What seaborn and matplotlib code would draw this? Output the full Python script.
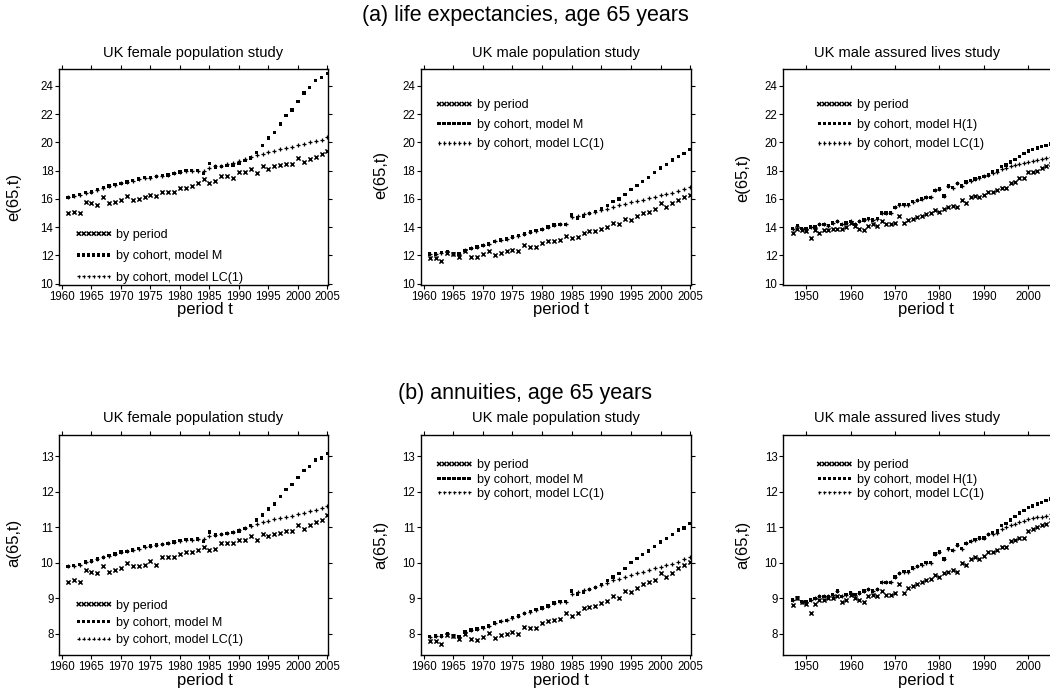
import numpy as np
import pandas as pd
import matplotlib
matplotlib.use('Agg')
from matplotlib import pyplot as plt
import seaborn as sns

# ---- data ----
years_pop = list(range(1961, 2006))
years_ass = list(range(1947, 2006))

# (a) life expectancy, UK female population
fem_e_period = [15.0, 15.1, 15.0, 15.8, 15.7, 15.6, 16.1, 15.7, 15.8, 15.9, 16.2, 15.9, 16.0, 16.1, 16.3,
                16.2, 16.5, 16.5, 16.5, 16.8, 16.8, 16.9, 17.1, 17.4, 17.1, 17.3, 17.6, 17.6, 17.5, 17.9,
                17.9, 18.1, 17.8, 18.3, 18.1, 18.3, 18.4, 18.5, 18.5, 18.9, 18.6, 18.8, 19.0, 19.2, 19.4]
fem_e_cohort = [16.1, 16.2, 16.3, 16.45, 16.5, 16.65, 16.8, 16.9, 17.0, 17.1, 17.2, 17.3, 17.4, 17.5, 17.5,
                17.6, 17.65, 17.7, 17.8, 17.9, 18.0, 18.0, 18.0, 17.8, 18.5, 18.25, 18.3, 18.35, 18.4, 18.5,
                18.7, 18.9, 19.3, 19.8, 20.3, 20.7, 21.3, 21.9, 22.3, 22.9, 23.5, 23.9, 24.4, 24.6, 24.9]
fem_e_lc = [16.1, 16.2, 16.3, 16.45, 16.5, 16.65, 16.8, 16.9, 17.0, 17.1, 17.2, 17.3, 17.4, 17.5, 17.5,
            17.6, 17.65, 17.7, 17.8, 17.9, 18.0, 18.0, 18.0, 18.0, 18.2, 18.3, 18.35, 18.45, 18.55, 18.65,
            18.8, 18.95, 19.1, 19.2, 19.3, 19.4, 19.5, 19.6, 19.7, 19.8, 19.9, 20.0, 20.1, 20.2, 20.35]

# (a) life expectancy, UK male population
mal_e_period = [11.8, 11.8, 11.6, 12.2, 12.1, 11.9, 12.3, 11.9, 11.9, 12.1, 12.3, 12.0, 12.2, 12.3, 12.4,
                12.3, 12.7, 12.6, 12.6, 12.9, 13.0, 13.0, 13.1, 13.4, 13.2, 13.3, 13.6, 13.7, 13.7, 13.9,
                14.0, 14.3, 14.2, 14.6, 14.5, 14.8, 15.0, 15.1, 15.3, 15.7, 15.4, 15.7, 15.9, 16.1, 16.3]
mal_e_cohort = [12.1, 12.1, 12.2, 12.25, 12.1, 12.1, 12.35, 12.5, 12.6, 12.7, 12.8, 13.0, 13.1, 13.15, 13.3,
                13.4, 13.5, 13.65, 13.75, 13.85, 14.0, 14.15, 14.2, 14.2, 14.85, 14.65, 14.8, 14.95, 15.1, 15.3,
                15.55, 15.8, 16.0, 16.3, 16.65, 16.95, 17.25, 17.5, 17.85, 18.2, 18.45, 18.75, 19.0, 19.2, 19.5]
mal_e_lc = [12.1, 12.1, 12.2, 12.25, 12.1, 12.1, 12.35, 12.5, 12.6, 12.7, 12.8, 13.0, 13.1, 13.15, 13.3,
            13.4, 13.5, 13.65, 13.75, 13.85, 14.0, 14.15, 14.2, 14.2, 14.7, 14.8, 14.9, 15.0, 15.1, 15.2,
            15.3, 15.45, 15.55, 15.65, 15.75, 15.85, 15.95, 16.05, 16.15, 16.25, 16.35, 16.45, 16.55, 16.7, 16.85]

# (a) life expectancy, UK male assured lives
ass_e_period = [13.6, 13.9, 13.8, 13.7, 13.2, 13.8, 13.6, 13.8, 13.8, 13.9, 13.9, 13.9, 14.0, 14.3, 14.1,
                13.9, 13.8, 14.1, 14.2, 14.1, 14.4, 14.2, 14.2, 14.3, 14.8, 14.3, 14.5, 14.6, 14.7, 14.8,
                14.9, 15.0, 15.2, 15.1, 15.3, 15.4, 15.5, 15.4, 15.9, 15.7, 16.1, 16.2, 16.1, 16.3, 16.5,
                16.5, 16.6, 16.8, 16.8, 17.1, 17.2, 17.5, 17.5, 17.9, 17.9, 18.0, 18.2, 18.3, 18.5]
ass_e_cohort = [13.9, 14.1, 13.9, 13.9, 14.0, 14.0, 14.2, 14.2, 14.1, 14.3, 14.4, 14.2, 14.3, 14.4, 14.2,
                14.4, 14.5, 14.6, 14.5, 14.6, 15.0, 15.0, 15.0, 15.4, 15.6, 15.6, 15.6, 15.8, 15.9, 16.0,
                16.1, 16.1, 16.6, 16.7, 16.2, 16.9, 16.8, 17.1, 16.9, 17.2, 17.3, 17.4, 17.5, 17.6, 17.7,
                17.9, 18.0, 18.3, 18.4, 18.6, 18.8, 19.0, 19.2, 19.4, 19.5, 19.6, 19.7, 19.8, 19.9]
ass_e_lc = [13.9, 14.1, 13.9, 13.9, 14.0, 14.0, 14.2, 14.2, 14.1, 14.3, 14.4, 14.2, 14.3, 14.4, 14.2,
            14.4, 14.5, 14.6, 14.5, 14.6, 15.0, 15.0, 15.0, 15.4, 15.6, 15.6, 15.6, 15.8, 15.9, 16.0,
            16.1, 16.1, 16.6, 16.7, 16.2, 16.9, 16.8, 17.1, 16.9, 17.2, 17.3, 17.4, 17.5, 17.6, 17.7,
            17.8, 17.9, 18.1, 18.2, 18.3, 18.4, 18.5, 18.55, 18.6, 18.7, 18.75, 18.8, 18.9, 19.0]

# (b) annuities, UK female population
fem_a_period = [9.45, 9.5, 9.45, 9.8, 9.75, 9.7, 9.9, 9.75, 9.8, 9.85, 10.0, 9.9, 9.9, 9.95, 10.05,
                9.95, 10.15, 10.15, 10.15, 10.25, 10.3, 10.3, 10.35, 10.45, 10.35, 10.4, 10.55, 10.55, 10.55, 10.65,
                10.65, 10.75, 10.65, 10.8, 10.75, 10.8, 10.85, 10.9, 10.9, 11.05, 10.95, 11.05, 11.15, 11.2, 11.35]
fem_a_cohort = [9.9, 9.92, 9.95, 10.02, 10.05, 10.1, 10.15, 10.2, 10.25, 10.3, 10.32, 10.36, 10.4, 10.45, 10.47,
                10.5, 10.52, 10.55, 10.58, 10.62, 10.65, 10.65, 10.67, 10.6, 10.87, 10.78, 10.8, 10.82, 10.85, 10.9,
                10.97, 11.05, 11.2, 11.35, 11.52, 11.65, 11.87, 12.07, 12.2, 12.4, 12.6, 12.72, 12.9, 12.95, 13.08]
fem_a_lc = [9.9, 9.92, 9.95, 10.02, 10.05, 10.1, 10.15, 10.2, 10.25, 10.3, 10.32, 10.36, 10.4, 10.45, 10.47,
            10.5, 10.52, 10.55, 10.58, 10.62, 10.65, 10.65, 10.67, 10.67, 10.75, 10.78, 10.8, 10.85, 10.88, 10.93,
            10.98, 11.03, 11.1, 11.15, 11.18, 11.22, 11.26, 11.3, 11.33, 11.37, 11.41, 11.45, 11.5, 11.54, 11.6]

# (b) annuities, UK male population
mal_a_period = [7.8, 7.8, 7.72, 7.97, 7.93, 7.85, 8.0, 7.85, 7.83, 7.92, 8.02, 7.88, 7.95, 8.0, 8.05,
                8.0, 8.2, 8.17, 8.17, 8.3, 8.37, 8.38, 8.42, 8.58, 8.5, 8.57, 8.72, 8.75, 8.78, 8.86,
                8.92, 9.05, 9.0, 9.2, 9.18, 9.3, 9.4, 9.45, 9.52, 9.7, 9.6, 9.7, 9.85, 9.93, 10.03]
mal_a_cohort = [7.92, 7.93, 7.94, 8.0, 7.93, 7.92, 8.05, 8.1, 8.13, 8.17, 8.22, 8.3, 8.35, 8.38, 8.45,
                8.5, 8.57, 8.62, 8.68, 8.72, 8.78, 8.87, 8.9, 8.9, 9.2, 9.12, 9.18, 9.24, 9.3, 9.38,
                9.5, 9.6, 9.7, 9.84, 10.0, 10.12, 10.23, 10.33, 10.45, 10.58, 10.68, 10.8, 10.92, 10.98, 11.1]
mal_a_lc = [7.92, 7.93, 7.94, 8.0, 7.93, 7.92, 8.05, 8.1, 8.13, 8.17, 8.22, 8.3, 8.35, 8.38, 8.45,
            8.5, 8.57, 8.62, 8.68, 8.72, 8.78, 8.87, 8.9, 8.9, 9.12, 9.17, 9.22, 9.27, 9.32, 9.38,
            9.43, 9.5, 9.55, 9.6, 9.65, 9.7, 9.75, 9.8, 9.84, 9.88, 9.93, 9.97, 10.02, 10.1, 10.17]

# (b) annuities, UK male assured lives
ass_a_period = [8.8, 9.0, 8.9, 8.85, 8.58, 8.85, 8.95, 8.95, 9.0, 9.0, 9.05, 8.9, 8.95, 9.1, 9.0,
                8.95, 8.9, 9.05, 9.1, 9.05, 9.2, 9.1, 9.1, 9.15, 9.4, 9.15, 9.3, 9.35, 9.4, 9.45,
                9.5, 9.55, 9.65, 9.6, 9.7, 9.75, 9.8, 9.75, 10.0, 9.95, 10.1, 10.15, 10.1, 10.2, 10.3,
                10.3, 10.35, 10.45, 10.45, 10.6, 10.65, 10.7, 10.7, 10.9, 10.95, 11.0, 11.05, 11.1, 11.2]
ass_a_cohort = [8.95, 9.02, 8.9, 8.9, 8.95, 9.0, 9.05, 9.05, 9.05, 9.1, 9.2, 9.05, 9.1, 9.15, 9.1,
                9.15, 9.2, 9.25, 9.2, 9.25, 9.45, 9.45, 9.45, 9.6, 9.7, 9.75, 9.75, 9.85, 9.9, 9.95,
                10.0, 10.0, 10.25, 10.3, 10.1, 10.4, 10.35, 10.5, 10.4, 10.55, 10.6, 10.65, 10.7, 10.7, 10.8,
                10.85, 10.9, 11.05, 11.1, 11.2, 11.3, 11.4, 11.48, 11.55, 11.6, 11.65, 11.7, 11.75, 11.8]
ass_a_lc = [8.95, 9.02, 8.9, 8.9, 8.95, 9.0, 9.05, 9.05, 9.05, 9.1, 9.2, 9.05, 9.1, 9.15, 9.1,
            9.15, 9.2, 9.25, 9.2, 9.25, 9.45, 9.45, 9.45, 9.6, 9.7, 9.75, 9.75, 9.85, 9.9, 9.95,
            10.0, 10.0, 10.25, 10.3, 10.1, 10.4, 10.35, 10.5, 10.4, 10.55, 10.6, 10.65, 10.7, 10.7, 10.8,
            10.8, 10.85, 10.95, 11.0, 11.05, 11.1, 11.15, 11.18, 11.22, 11.25, 11.28, 11.3, 11.33, 11.37]

labels_M = ['by period', 'by cohort, model M', 'by cohort, model LC(1)']
labels_H = ['by period', 'by cohort, model H(1)', 'by cohort, model LC(1)']
panel_titles = ['UK female population study', 'UK male population study', 'UK male assured lives study']

sns.set_style('ticks')
plt.rcParams['font.family'] = ['Liberation Sans', 'DejaVu Sans']
plt.rcParams['axes.edgecolor'] = 'black'
plt.rcParams['axes.linewidth'] = 1.0
plt.rcParams['text.color'] = 'black'
plt.rcParams['axes.labelcolor'] = 'black'

fig = plt.figure(figsize=(10.5, 6.89), dpi=100)

W, H = 1050.0, 689.0
def add_axes(left, right, top, bottom):
    return fig.add_axes([left / W, 1 - bottom / H, (right - left) / W, (bottom - top) / H])

markers = ['x', 's', '+']
sizes = [9, 6, 5]
lws = [1.1, 0, 0.9]
ink = '#000000'

def draw(ax, years, series, labels):
    for vals, lab, m, s, lw in zip(series, labels, markers, sizes, lws):
        d = pd.DataFrame({'year': years, 'value': vals})
        sns.scatterplot(data=d, x='year', y='value', ax=ax, marker=m, s=s,
                        color=ink, linewidth=lw, edgecolor=ink if m != 's' else 'none',
                        label=lab, legend=False, zorder=3)

rows = [
    dict(ylabel='e(65,t)', ylim=(9.9, 25.2), yticks=range(10, 25, 2), top=69, bottom=285,
         data=[(fem_e_period, fem_e_cohort, fem_e_lc), (mal_e_period, mal_e_cohort, mal_e_lc),
               (ass_e_period, ass_e_cohort, ass_e_lc)],
         leg=[('lower left', (0.055, 0.0), 0.75), ('upper left', (0.05, 0.865), 0.6), ('upper left', (0.115, 0.865), 0.6)],
         ylab_y=[0.41, 0.51, 0.495], xlab_y=-0.078),
    dict(ylabel='a(65,t)', ylim=(7.4, 13.6), yticks=range(8, 14), top=435, bottom=655,
         data=[(fem_a_period, fem_a_cohort, fem_a_lc), (mal_a_period, mal_a_cohort, mal_a_lc),
               (ass_a_period, ass_a_cohort, ass_a_lc)],
         leg=[('lower left', (0.055, 0.035), 0.42), ('upper left', (0.05, 0.895), 0.18), ('upper left', (0.115, 0.895), 0.18)],
         ylab_y=[0.51, 0.5, 0.5], xlab_y=-0.082),
]
cols = [(59, 328), (420.7, 690.7), (783, 1055)]
ylab_x = [-0.14, -0.12, -0.12]
xlab_x = [0.543, 0.52, 0.525]
title_x = [0.5, 0.5, 0.456]

for row in rows:
    for j, (l, r) in enumerate(cols):
        ax = add_axes(l, r, row['top'], row['bottom'])
        if j < 2:
            draw(ax, years_pop, row['data'][j], labels_M)
            ax.set_xlim(1959.5, 2005.1)
            ax.set_xticks(range(1960, 2006, 5))
        else:
            draw(ax, years_ass, row['data'][j], labels_H)
            ax.set_xlim(1944.8, 2006.0)
            ax.set_xticks(range(1950, 2001, 10))
        ax.set_ylim(*row['ylim'])
        ax.set_yticks(list(row['yticks']))
        ax.tick_params(axis='both', direction='out', length=3, width=0.8, labelsize=8.3, pad=1,
                       top=True, right=True, colors='black')
        ax.set_title(panel_titles[j], fontsize=10.5, pad=9, x=title_x[j])
        ax.set_xlabel('period t', fontsize=12)
        ax.xaxis.set_label_coords(xlab_x[j], row['xlab_y'])
        ax.set_ylabel(row['ylabel'], fontsize=12)
        ax.yaxis.set_label_coords(ylab_x[j], row['ylab_y'][j])
        loc, anchor, spacing = row['leg'][j]
        ax.legend(loc=loc, bbox_to_anchor=anchor, frameon=False, fontsize=9,
                  scatterpoints=7, scatteryoffsets=[0.5], handlelength=3.0,
                  handletextpad=0.3, labelspacing=spacing, borderpad=0.1, borderaxespad=0)

fig.text(0.5, 1 - 15 / H, '(a) life expectancies, age 65 years', ha='center', va='center', fontsize=15.5)
fig.text(0.5, 1 - 393 / H, '(b) annuities, age 65 years', ha='center', va='center', fontsize=15.5)

fig.savefig('out.png', dpi=100)
